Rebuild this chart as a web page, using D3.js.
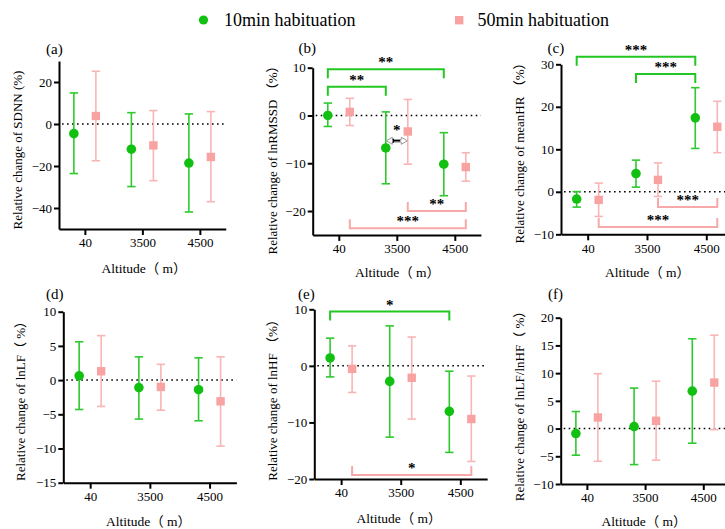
<!DOCTYPE html>
<html>
<head>
<meta charset="utf-8">
<script src="https://cdn.jsdelivr.net/npm/d3@7"></script>
</head>
<body style="margin:0; background:#fff">
<svg id="chart" width="725" height="529"></svg>
<script>
// altitude groups on the x axis
const altitudes = ["40", "3500", "4500"];

// each entry: [mean, lower error, upper error] per altitude
const sdnn10 = [[-4.6, -23.6, 14.8], [-12.0, -29.8, 5.4], [-18.6, -41.9, 4.8]];
const sdnn50 = [[3.8, -17.5, 25.1], [-10.2, -27.0, 6.4], [-15.7, -37.0, 5.9]];
const rmssd10 = [[0.0, -2.3, 2.6], [-6.8, -14.3, 0.75], [-10.2, -16.8, -3.6]];
const rmssd50 = [[0.75, -2.1, 3.6], [-3.35, -10.2, 3.35], [-10.8, -13.75, -7.8]];
const meanHr10 = [[-1.7, -3.6, 0.05], [4.3, 1.1, 7.45], [17.4, 10.2, 24.5]];
const meanHr50 = [[-1.9, -5.8, 2.05], [2.8, -1.1, 6.8], [15.3, 9.2, 21.3]];
const lnLf10 = [[0.63, -4.3, 5.6], [-1.1, -5.7, 3.4], [-1.4, -5.95, 3.25]];
const lnLf50 = [[1.3, -3.85, 6.5], [-1.0, -4.4, 2.3], [-3.1, -9.65, 3.4]];
const lnHf10 = [[1.4, -1.95, 4.9], [-2.75, -12.6, 7.07], [-8.05, -15.3, -0.94]];
const lnHf50 = [[-0.53, -4.7, 3.53], [-2.1, -9.4, 5.1], [-9.4, -16.9, -1.8]];
const ratio10 = [[-0.9, -4.8, 3.07], [0.36, -6.5, 7.3], [6.75, -2.64, 16.2]];
const ratio50 = [[2.0, -5.9, 9.9], [1.4, -5.7, 8.55], [8.3, -0.2, 16.85]];

// y tick labels per panel
const ticksA = [-40, -20, 0, 20];
const ticksB = [-20, -10, 0, 10];
const ticksC = [-10, 0, 10, 20, 30];
const ticksD = [-15, -10, -5, 0, 5, 10];
const ticksE = [-20, -10, 0, 10];
const ticksF = [-10, -5, 0, 5, 10, 15, 20];

// significance brackets: panel, group, from index, to index, level (data units), label
const brackets = [
  ["b", "g10", 0, 2, 9.7, "**"],
  ["b", "g10", 0, 1, 6.0, "**"],
  ["b", "g50", 1, 2, -20.0, "**"],
  ["b", "g50", 0, 2, -23.6, "***"],
  ["c", "g10", 0, 2, 31.8, "***"],
  ["c", "g10", 1, 2, 27.7, "***"],
  ["c", "g50", 1, 2, -3.6, "***"],
  ["c", "g50", 0, 2, -8.3, "***"],
  ["e", "g10", 0, 2, 9.6, "*"],
  ["e", "g50", 0, 2, -19.3, "*"]
];
// between-group comparison (10 vs 50 min) : panel, altitude index, level, label
const pairMarks = [["b", 1, -5.3, "*"]];

const GREEN = "#12c012", GREEN_BAR = "#2fc92f";
const PINK = "#f8a2a2", PINK_BAR = "#f9b5b5";
const FONT = "Liberation Serif, Noto Sans CJK SC";

const panels = [
  {id: "a", data10: sdnn10, data50: sdnn50, ticks: ticksA, domain: [-50, 30],
   x0: 59, step: 57.5, yTop: 61, yBot: 229,
   ytitle: "Relative change of SDNN (%)", yt: [22, 150], lab: [46, 53.5], xt: [101.5, 272.5]},
  {id: "b", data10: rmssd10, data50: rmssd50, ticks: ticksB, domain: [-25, 10],
   x0: 312.7, step: 58, yTop: 67.7, yBot: 234.9,
   ytitle: "Relative change of lnRMSSD （%）", yt: [276.5, 157], lab: [298.5, 53], xt: [355, 277]},
  {id: "c", data10: meanHr10, data50: meanHr50, ticks: ticksC, domain: [-10, 30],
   x0: 561, step: 59.3, yTop: 64.3, yBot: 234.3,
   ytitle: "Relative change of meanHR （%）", yt: [523.5, 150], lab: [547.5, 53], xt: [605, 277]},
  {id: "d", data10: lnLf10, data50: lnLf50, ticks: ticksD, domain: [-15, 10],
   x0: 63.3, step: 59.7, yTop: 311.7, yBot: 482.7,
   ytitle: "Relative change of lnLF（ %）", yt: [25, 398], lab: [46, 299], xt: [106, 526]},
  {id: "e", data10: lnHf10, data50: lnHf50, ticks: ticksE, domain: [-20, 10],
   x0: 314.3, step: 59.6, yTop: 309.3, yBot: 479,
   ytitle: "Relative change of lnHF （%）", yt: [276.5, 397], lab: [298, 299], xt: [356.5, 523]},
  {id: "f", data10: ratio10, data50: ratio50, ticks: ticksF, domain: [-10, 20],
   x0: 560.7, step: 58.2, yTop: 317.7, yBot: 484,
   ytitle: "Relative change of lnLF/lnHF（ %）", yt: [524, 403], lab: [548, 299], xt: [601.5, 525.5]}
];

const svg = d3.select("#chart").attr("font-family", FONT);
const OFFSET = 11; // px shift of the two groups around each tick

panels.forEach(p => {
  const w = p.step * 2.9;
  const x = d3.scalePoint().domain(altitudes).range([p.x0, p.x0 + w]).padding(0.45);
  const y = d3.scaleLinear().domain(p.domain).range([p.yBot, p.yTop]);
  const g = svg.append("g");
  const gx = (grp, i) => x(altitudes[i]) + (grp === "g10" ? -OFFSET : OFFSET);

  // zero reference line
  g.append("line")
    .attr("x1", p.x0 + 3).attr("x2", p.x0 + w)
    .attr("y1", y(0)).attr("y2", y(0))
    .attr("stroke", "#000").attr("stroke-width", 1.5)
    .attr("stroke-dasharray", "1.6,3.4");

  // axes
  const yAxis = g.append("g")
    .attr("transform", `translate(${p.x0},0)`)
    .call(d3.axisLeft(y).tickValues(p.ticks).tickSize(5).tickSizeOuter(0).tickPadding(2));
  const xAxis = g.append("g")
    .attr("transform", `translate(0,${p.yBot})`)
    .call(d3.axisBottom(x).tickSize(6).tickSizeOuter(0).tickPadding(3));
  [yAxis, xAxis].forEach(a => {
    a.attr("font-family", FONT).attr("font-size", 13);
    a.select(".domain").attr("stroke-width", 2);
    a.selectAll(".tick line").attr("stroke-width", 2);
    a.selectAll("text").attr("fill", "#000");
  });

  // error bars and markers
  const groups = [
    {key: "g50", data: p.data50, bar: PINK_BAR, fill: PINK},
    {key: "g10", data: p.data10, bar: GREEN_BAR, fill: GREEN}
  ];
  groups.forEach(s => {
    const eb = g.append("g").selectAll("g").data(s.data).enter().append("g");
    eb.append("line")
      .attr("x1", (d, i) => gx(s.key, i)).attr("x2", (d, i) => gx(s.key, i))
      .attr("y1", d => y(d[1])).attr("y2", d => y(d[2]))
      .attr("stroke", s.bar).attr("stroke-width", 1.6);
    [1, 2].forEach(k => {
      eb.append("line")
        .attr("x1", (d, i) => gx(s.key, i) - 4.2).attr("x2", (d, i) => gx(s.key, i) + 4.2)
        .attr("y1", d => y(d[k])).attr("y2", d => y(d[k]))
        .attr("stroke", s.bar).attr("stroke-width", 1.6);
    });
    if (s.key === "g10") {
      eb.append("circle")
        .attr("cx", (d, i) => gx(s.key, i)).attr("cy", d => y(d[0]))
        .attr("r", 4.8).attr("fill", s.fill);
    } else {
      eb.append("rect")
        .attr("x", (d, i) => gx(s.key, i) - 4.2).attr("y", d => y(d[0]) - 4.2)
        .attr("width", 8.4).attr("height", 8.4).attr("fill", s.fill);
    }
  });

  // significance brackets
  brackets.filter(b => b[0] === p.id).forEach(b => {
    const [, grp, i0, i1, lvl, label] = b;
    const xa = gx(grp, i0), xb = gx(grp, i1), yl = y(lvl);
    const dir = grp === "g10" ? 9 : -9;
    const col = grp === "g10" ? "#22c722" : "#f7a9a9";
    g.append("path")
      .attr("d", `M${xa},${yl + dir}V${yl}H${xb}V${yl + dir}`)
      .attr("fill", "none").attr("stroke", col).attr("stroke-width", 2);
    g.append("text")
      .attr("x", (xa + xb) / 2).attr("y", yl - 2)
      .attr("text-anchor", "middle").attr("font-size", 15).attr("font-weight", "bold")
      .text(label);
  });

  pairMarks.filter(m => m[0] === p.id).forEach(m => {
    const [, i, lvl, label] = m;
    const xa = gx("g10", i) + 0.5, xb = gx("g50", i) - 0.5, yc = y(lvl);
    const xm = (xa + xb) / 2;
    g.append("path")
      .attr("d", `M${xa},${yc}L${xa + 6},${yc - 3.5}V${yc - 1.3}H${xb - 6}V${yc - 3.5}L${xb},${yc}` +
                 `L${xb - 6},${yc + 3.5}V${yc + 1.3}H${xa + 6}V${yc + 3.5}Z`)
      .attr("fill", "#fff").attr("stroke", "#9a9a9a").attr("stroke-width", 1);
    g.append("path")
      .attr("d", `M${xm - 3.5},${yc - 2}V${yc + 2}M${xm - 3.5},${yc}H${xm + 3.5}`)
      .attr("stroke", "#000").attr("stroke-width", 1.4).attr("fill", "none");
    g.append("text")
      .attr("x", xm).attr("y", yc - 5.5)
      .attr("text-anchor", "middle").attr("font-size", 15).attr("font-weight", "bold")
      .text(label);
  });

  // titles
  g.append("text")
    .attr("transform", `translate(${p.yt[0]},${p.yt[1]}) rotate(-90)`)
    .attr("text-anchor", "middle").attr("font-size", 13)
    .text(p.ytitle);
  g.append("text")
    .attr("x", p.xt[0]).attr("y", p.xt[1]).attr("font-size", 13.5)
    .text("Altitude（ m）");
  g.append("text")
    .attr("x", p.lab[0]).attr("y", p.lab[1]).attr("font-size", 15)
    .text(`(${p.id})`);
});

// legend
const legend = svg.append("g");
legend.append("circle").attr("cx", 203.5).attr("cy", 20).attr("r", 4.6).attr("fill", GREEN);
legend.append("text").attr("x", 224).attr("y", 26).attr("font-size", 18).text("10min habituation");
legend.append("rect").attr("x", 455).attr("y", 16).attr("width", 8.4).attr("height", 8.4).attr("fill", PINK);
legend.append("text").attr("x", 477.5).attr("y", 26).attr("font-size", 18).text("50min habituation");
</script>
</body>
</html>
